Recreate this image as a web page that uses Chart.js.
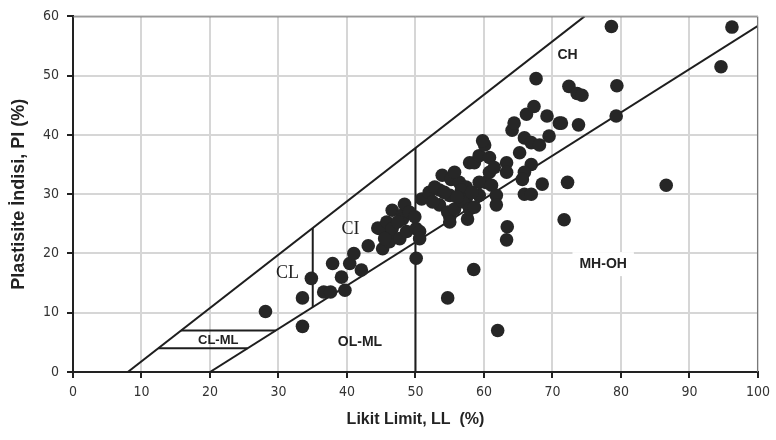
<!DOCTYPE html>
<html>
<head>
<meta charset="utf-8">
<script src="https://cdn.jsdelivr.net/npm/chart.js@4/dist/chart.umd.min.js"></script>
<style>
  body { margin: 0; background: #fff; }
  #wrap { width: 776px; height: 440px; }
</style>
</head>
<body>
<div id="wrap"><canvas id="myChart" width="776" height="440"></canvas></div>
<script>
// soil samples: liquid limit (LL) and plasticity index (PI)
const LL = [
  28.1, 33.5, 33.5, 34.8, 36.6, 37.6, 39.7, 39.2, 37.9, 40.4,
  41.0, 42.1, 43.1, 44.5, 46.2, 45.2, 44.8, 45.8, 46.6, 46.6,
  46.2, 47.7, 48.1, 48.4, 48.7, 48.1, 50.1, 50.6, 50.6, 50.1,
  50.9, 52.0, 53.5, 53.9, 55.2, 56.4, 53.5, 55.0, 55.0, 54.7,
  55.0, 55.7, 57.4, 57.4, 57.6, 56.9, 57.9, 59.3, 60.3, 59.3,
  61.1, 61.8, 61.8, 57.9, 58.6, 59.3, 60.8, 60.1, 59.8, 63.3,
  63.3, 63.4, 63.3, 58.5, 54.7, 62.0, 64.1, 64.4, 66.2, 67.3,
  69.2, 71.0, 73.8, 65.9, 66.9, 68.1, 69.5, 65.2, 66.9, 65.9,
  65.6, 68.5, 72.2, 65.9, 66.9, 71.7, 67.6, 78.6, 96.2, 94.6,
  79.4, 72.4, 73.6, 74.3, 79.3, 71.3, 86.6, 49.1, 47.4, 45.5,
  49.9, 52.5, 52.8, 56.7, 58.2, 60.8, 61.5, 58.6, 54.2, 56.1,
  55.7
];
const PI = [
  10.2, 12.5, 7.7, 15.8, 13.5, 13.5, 13.8, 16.0, 18.3, 18.3,
  20.0, 17.2, 21.3, 24.3, 23.2, 20.8, 24.2, 25.3, 27.3, 24.2,
  22.0, 22.5, 26.5, 28.3, 23.7, 25.8, 24.2, 23.7, 22.5, 19.2,
  29.2, 30.3, 30.7, 33.2, 32.5, 32.0, 28.2, 29.8, 26.2, 27.0,
  25.3, 27.5, 29.2, 31.2, 25.8, 28.7, 27.5, 29.8, 32.0, 32.0,
  31.5, 29.8, 28.2, 35.3, 35.3, 36.5, 36.2, 38.3, 39.0, 35.3,
  33.7, 24.5, 22.3, 17.3, 12.5, 7.0, 40.8, 42.0, 43.5, 44.8,
  43.2, 42.0, 41.7, 39.5, 38.7, 38.3, 39.8, 37.0, 35.0, 33.7,
  32.5, 31.7, 32.0, 30.0, 30.0, 25.7, 49.5, 58.3, 58.2, 51.5,
  48.3, 48.2, 47.0, 46.7, 43.2, 42.0, 31.5, 27.0, 25.3, 22.5,
  26.2, 28.7, 31.2, 30.7, 30.3, 33.7, 34.5, 27.8, 30.3, 29.5,
  33.7
];

// classification boundaries [LL, PI]
const uLine = [[8, 0], [74.67, 60]];
const aLine = [[20, 0], [100, 58.4]];
const ll35 = [[35, 10.95], [35, 24.3]];
const ll50 = [[50, 0], [50, 37.8]];
const clml4 = [[12.44, 4], [25.48, 4]];
const clml7 = [[15.78, 7], [29.59, 7]];

// soil group labels [text, LL, PI]
const groups = [
  ["CH", 72.2, 53.5],
  ["CI", 40.5, 24.0],
  ["CL", 31.3, 16.7],
  ["CL-ML", 21.2, 5.3],
  ["OL-ML", 41.9, 5.0],
  ["MH-OH", 77.4, 18.2]
];

const tickFont = { family: "'DejaVu Sans Condensed', 'Liberation Sans', Arial", size: 14 };

const toXY = (pts) => pts.map((p) => ({ x: p[0], y: p[1] }));

const boundary = (pts) => ({
  data: toXY(pts),
  showLine: true,
  pointRadius: 0,
  borderColor: "#1e1e1e",
  borderWidth: 2,
  order: 1,
});

const labelPlugin = {
  id: "labels",
  afterDatasetsDraw(chart) {
    const c = chart.ctx;
    const a = chart.chartArea;
    const xs = chart.scales.x;
    const ys = chart.scales.y;
    c.save();
    c.strokeStyle = "#777";
    c.lineWidth = 1;
    c.beginPath();
    c.moveTo(a.left, a.top + 0.5);
    c.lineTo(a.right - 0.5, a.top + 0.5);
    c.lineTo(a.right - 0.5, a.bottom);
    c.stroke();
    c.textAlign = "center";
    c.textBaseline = "middle";
    groups.forEach((g) => {
      const px = xs.getPixelForValue(g[1]);
      const py = ys.getPixelForValue(g[2]);
      if (g[0] === "CI" || g[0] === "CL") {
        c.font = "18px 'Liberation Serif', serif";
      } else if (g[0] === "CL-ML") {
        c.font = "bold 13px 'Liberation Sans', Arial";
      } else {
        c.font = "bold 14px 'Liberation Sans', Arial";
      }
      if (g[0] === "MH-OH") {
        const w = c.measureText(g[0]).width + 14;
        c.fillStyle = "#fff";
        c.fillRect(px - w / 2, py - 12, w, 24);
      }
      c.fillStyle = "#222";
      c.fillText(g[0], px, py);
    });
    c.restore();
  },
};

const ctx = document.getElementById("myChart");

new Chart(ctx, {
  type: "scatter",
  data: {
    datasets: [
      {
        data: LL.map((v, i) => ({ x: v, y: PI[i] })),
        backgroundColor: "#262626",
        borderWidth: 0,
        pointRadius: 6.8,
        order: 0,
      },
      boundary(uLine),
      boundary(aLine),
      boundary(ll35),
      boundary(ll50),
      boundary(clml4),
      boundary(clml7),
    ],
  },
  options: {
    responsive: false,
    animation: false,
    layout: { padding: { top: 12, right: 17, left: 0, bottom: 0 } },
    plugins: { legend: { display: false }, tooltip: { enabled: false } },
    scales: {
      x: {
        type: "linear",
        min: 0,
        max: 100,
        afterFit: (s) => { s.height = 68; },
        ticks: { stepSize: 10, padding: 6, color: "#333", font: tickFont },
        grid: { color: "#d6d6d6", lineWidth: 2, tickLength: 6, tickColor: "#222", tickWidth: 2 },
        border: { color: "#222", width: 2 },
        title: {
          display: true,
          text: "Likit Limit, LL  (%)",
          color: "#222",
          padding: { top: 0, bottom: 11 },
          font: { family: "'Liberation Sans', Arial", size: 16, weight: "bold" },
        },
      },
      y: {
        min: 0,
        max: 60,
        afterFit: (s) => { s.width = 73; },
        ticks: { stepSize: 10, padding: 8, color: "#333", font: tickFont },
        grid: { color: "#d6d6d6", lineWidth: 2, tickLength: 6, tickColor: "#222", tickWidth: 2 },
        border: { color: "#222", width: 2 },
        title: {
          display: true,
          text: "Plastisite İndisi, PI (%)",
          color: "#222",
          padding: { top: 8, bottom: 0 },
          font: { family: "'Liberation Sans', Arial", size: 18, weight: "bold" },
        },
      },
    },
  },
  plugins: [labelPlugin],
});
</script>
</body>
</html>
